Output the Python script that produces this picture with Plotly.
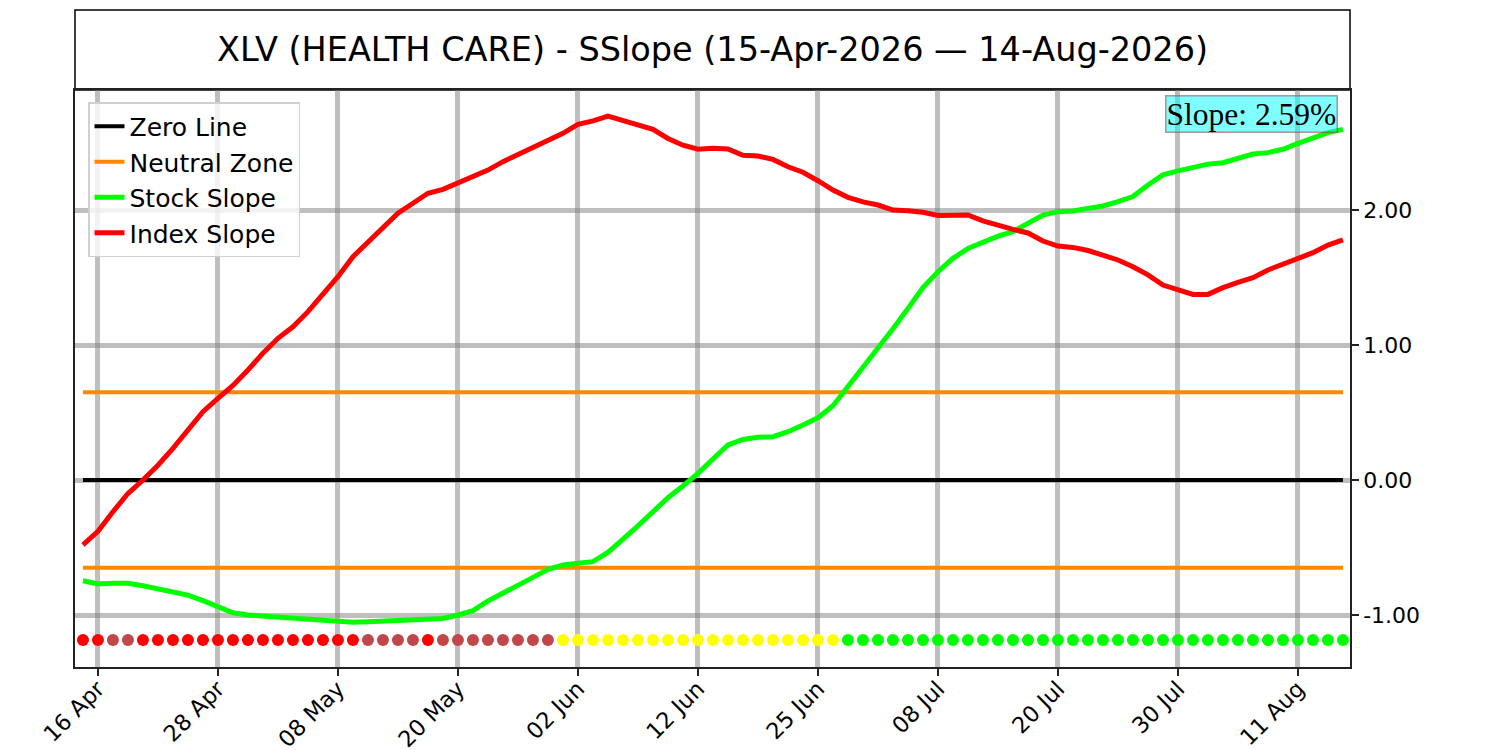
import pandas as pd
import plotly.graph_objects as go

# ---------------- data ----------------
holidays = ["2026-05-25", "2026-06-19", "2026-07-03"]
dates = pd.bdate_range("2026-04-15", "2026-08-14", freq="C", holidays=holidays)
date_keys = [d.strftime("%Y-%m-%d") for d in dates]

tick_dates = ["2026-04-16", "2026-04-28", "2026-05-08", "2026-05-20", "2026-06-02",
              "2026-06-12", "2026-06-25", "2026-07-08", "2026-07-20", "2026-07-30",
              "2026-08-11"]
tick_labels = ["16 Apr", "28 Apr", "08 May", "20 May", "02 Jun", "12 Jun",
               "25 Jun", "08 Jul", "20 Jul", "30 Jul", "11 Aug"]

stock_slope = [
    -0.746, -0.770, -0.765, -0.765, -0.783, -0.807, -0.827, -0.852, -0.894, -0.938,
    -0.983, -1.000, -1.007, -1.017, -1.020, -1.030, -1.037, -1.042, -1.054, -1.050,
    -1.044, -1.037, -1.030, -1.032, -1.025, -1.000, -0.968, -0.896, -0.840, -0.785,
    -0.721, -0.661, -0.630, -0.617, -0.605, -0.536, -0.440, -0.340, -0.235, -0.131,
    -0.044, 0.049, 0.156, 0.260, 0.300, 0.316, 0.321, 0.358, 0.407, 0.461,
    0.550, 0.690, 0.827, 0.968, 1.120, 1.270, 1.425, 1.543, 1.642, 1.716,
    1.765, 1.807, 1.840, 1.900, 1.963, 1.988, 1.993, 2.012, 2.030, 2.062,
    2.100, 2.185, 2.260, 2.290, 2.316, 2.340, 2.350, 2.383, 2.415, 2.425,
    2.450, 2.494, 2.531, 2.573, 2.597,
]

index_slope = [
    -0.480, -0.380, -0.235, -0.100, 0.000, 0.110, 0.235, 0.370, 0.506, 0.605,
    0.700, 0.815, 0.940, 1.050, 1.135, 1.247, 1.370, 1.506, 1.654, 1.765,
    1.876, 1.976, 2.050, 2.124, 2.153, 2.200, 2.247, 2.296, 2.358, 2.410,
    2.457, 2.506, 2.568, 2.635, 2.660, 2.696, 2.660, 2.630, 2.597, 2.530,
    2.480, 2.450, 2.457, 2.452, 2.405, 2.400, 2.375, 2.320, 2.280, 2.217,
    2.148, 2.094, 2.060, 2.037, 2.000, 1.995, 1.983, 1.960, 1.963, 1.963,
    1.920, 1.884, 1.857, 1.830, 1.770, 1.733, 1.723, 1.700, 1.667, 1.630,
    1.580, 1.520, 1.444, 1.412, 1.375, 1.375, 1.425, 1.464, 1.499, 1.556,
    1.600, 1.642, 1.684, 1.740, 1.778,
]

# state of each day: R = red, B = brown, Y = yellow, G = green
states = list("RRBB" + "R" * 15 + "BBBB" + "R" + "B" * 8 + "Y" * 19 + "G" * 34)
state_colors = {"R": "#ff0000", "B": "#c0474a", "Y": "#ffff00", "G": "#00ff00"}

neutral_level = 0.65
dot_level = -1.185
slope_text = "Slope: 2.59%"
title_text = "XLV (HEALTH CARE) - SSlope (15-Apr-2026 \u2014 14-Aug-2026)"

# ---------------- figure ----------------
FONT = "DejaVu Sans"
fig = go.Figure()

first, last = date_keys[0], date_keys[-1]

fig.add_trace(go.Scatter(x=[first, last], y=[0, 0], mode="lines",
                         line=dict(color="black", width=4), name="Zero Line"))
fig.add_trace(go.Scatter(x=[first, last], y=[neutral_level, neutral_level], mode="lines",
                         line=dict(color="#ff8800", width=4), name="Neutral Zone"))
fig.add_trace(go.Scatter(x=[first, last], y=[-neutral_level, -neutral_level], mode="lines",
                         line=dict(color="#ff8800", width=4), name="Neutral Zone",
                         showlegend=False))
fig.add_trace(go.Scatter(x=date_keys, y=stock_slope, mode="lines",
                         line=dict(color="#00ff00", width=5), name="Stock Slope"))
fig.add_trace(go.Scatter(x=date_keys, y=index_slope, mode="lines",
                         line=dict(color="#ff0000", width=5), name="Index Slope"))
fig.add_trace(go.Scatter(x=date_keys, y=[dot_level] * len(date_keys), mode="markers",
                         marker=dict(size=12, color=[state_colors[s] for s in states],
                                     line=dict(width=0)),
                         showlegend=False, hoverinfo="skip"))

plot_h = 577.0
top_box = 1 + 80 / plot_h

fig.add_shape(type="rect", xref="paper", yref="paper", x0=0, x1=1, y0=1, y1=top_box,
              line=dict(color="black", width=1.5), fillcolor="white", layer="below")
fig.add_annotation(xref="paper", yref="paper", x=0.5, y=1 + 40 / plot_h,
                   text=title_text, showarrow=False, xanchor="center", yanchor="middle",
                   font=dict(family=FONT, size=33.5, color="black"))
fig.add_annotation(xref="paper", yref="paper", x=1, y=1, xshift=-12, yshift=-5,
                   text=slope_text, showarrow=False, xanchor="right", yanchor="top",
                   font=dict(family="Liberation Serif", size=31.5, color="black"),
                   bgcolor="rgba(0,255,255,0.5)", bordercolor="rgba(150,60,60,0.55)",
                   borderwidth=1.5, borderpad=0)

grid_color = "rgba(128,128,128,0.5)"
fig.update_layout(
    width=1500, height=750,
    margin=dict(l=67, r=158, t=82, b=91, autoexpand=False),
    paper_bgcolor="white", plot_bgcolor="white",
    font=dict(family=FONT, size=22, color="black"),
    showlegend=True,
    legend=dict(x=0.0102, y=0.979, xanchor="left", yanchor="top",
                bgcolor="rgba(255,255,255,0.8)", bordercolor="#d0d0d0", borderwidth=1.5,
                font=dict(family=FONT, size=25), itemwidth=30, tracegroupgap=0),
    xaxis=dict(type="category", categoryorder="array", categoryarray=date_keys,
               range=[-0.53, 84.47], tickmode="array", tickvals=tick_dates,
               ticktext=tick_labels, tickangle=-45, ticks="outside", ticklen=7,
               tickwidth=1.5, tickcolor="#222", showgrid=True, gridcolor=grid_color,
               gridwidth=4.5, showline=True, linecolor="#222", linewidth=1.5, mirror=True,
               zeroline=False, tickfont=dict(size=22.5), automargin=False,
               ticklabelstandoff=-9),
    yaxis=dict(side="right", range=[-1.385, 2.889], tickmode="array",
               tickvals=[-1, 0, 1, 2], ticktext=["-1.00", "0.00", "1.00", "2.00"],
               ticks="outside", ticklen=7, tickwidth=1.5, tickcolor="#222",
               showgrid=True, gridcolor=grid_color, gridwidth=4.5, showline=True,
               linecolor="#222", linewidth=1.5, mirror=True, zeroline=False,
               tickfont=dict(size=22), automargin=False),
)

fig.write_html("out.html")
